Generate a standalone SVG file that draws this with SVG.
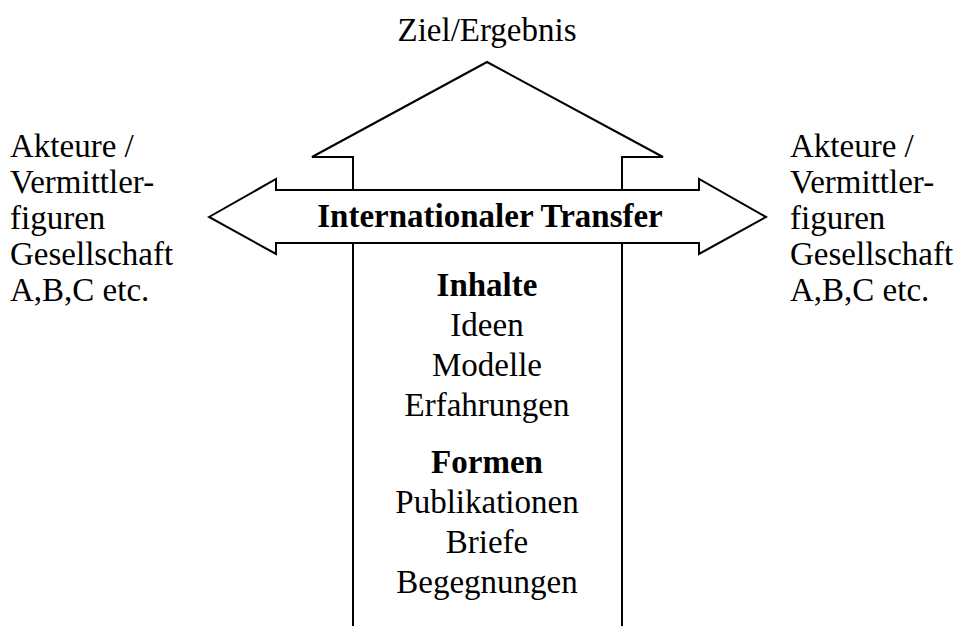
<svg xmlns="http://www.w3.org/2000/svg" width="957" height="626" viewBox="0 0 957 626">
<style>
.shape{fill:#fff;stroke:#000;stroke-width:2;stroke-linejoin:miter}
text{font-family:"Liberation Serif","DejaVu Serif",serif;font-size:33px;fill:#000}
.c{text-anchor:middle}
.b{font-weight:bold}
</style>
<rect width="957" height="626" fill="#fff"/>
<g id="connectors">
<path id="up-arrow" class="shape" d="M353,630 L353,157 L312,157 L487,62 L663,157 L622,157 L622,630"/>
<path id="transfer-arrow" class="shape" d="M209,217 L276,179 L276,190 L699,190 L699,179 L766,217 L699,254 L699,243 L276,243 L276,254 Z"/>
</g>
<g id="goal"><text class="c" x="487" y="41">Ziel/Ergebnis</text></g>
<g id="transfer"><text class="c b" x="490" y="227">Internationaler Transfer</text></g>
<g id="actors-left">
<text x="10" y="157">Akteure /</text>
<text x="10" y="193">Vermittler-</text>
<text x="10" y="229">figuren</text>
<text x="10" y="265">Gesellschaft</text>
<text x="10" y="301">A,B,C etc.</text>
</g>
<g id="actors-right">
<text x="790" y="157">Akteure /</text>
<text x="790" y="193">Vermittler-</text>
<text x="790" y="229">figuren</text>
<text x="790" y="265">Gesellschaft</text>
<text x="790" y="301">A,B,C etc.</text>
</g>
<g id="contents">
<text class="c b" x="487" y="296">Inhalte</text>
<text class="c" x="487" y="336">Ideen</text>
<text class="c" x="487" y="376">Modelle</text>
<text class="c" x="487" y="416">Erfahrungen</text>
</g>
<g id="forms">
<text class="c b" x="487" y="473">Formen</text>
<text class="c" x="487" y="513">Publikationen</text>
<text class="c" x="487" y="553">Briefe</text>
<text class="c" x="487" y="593">Begegnungen</text>
</g>
</svg>
